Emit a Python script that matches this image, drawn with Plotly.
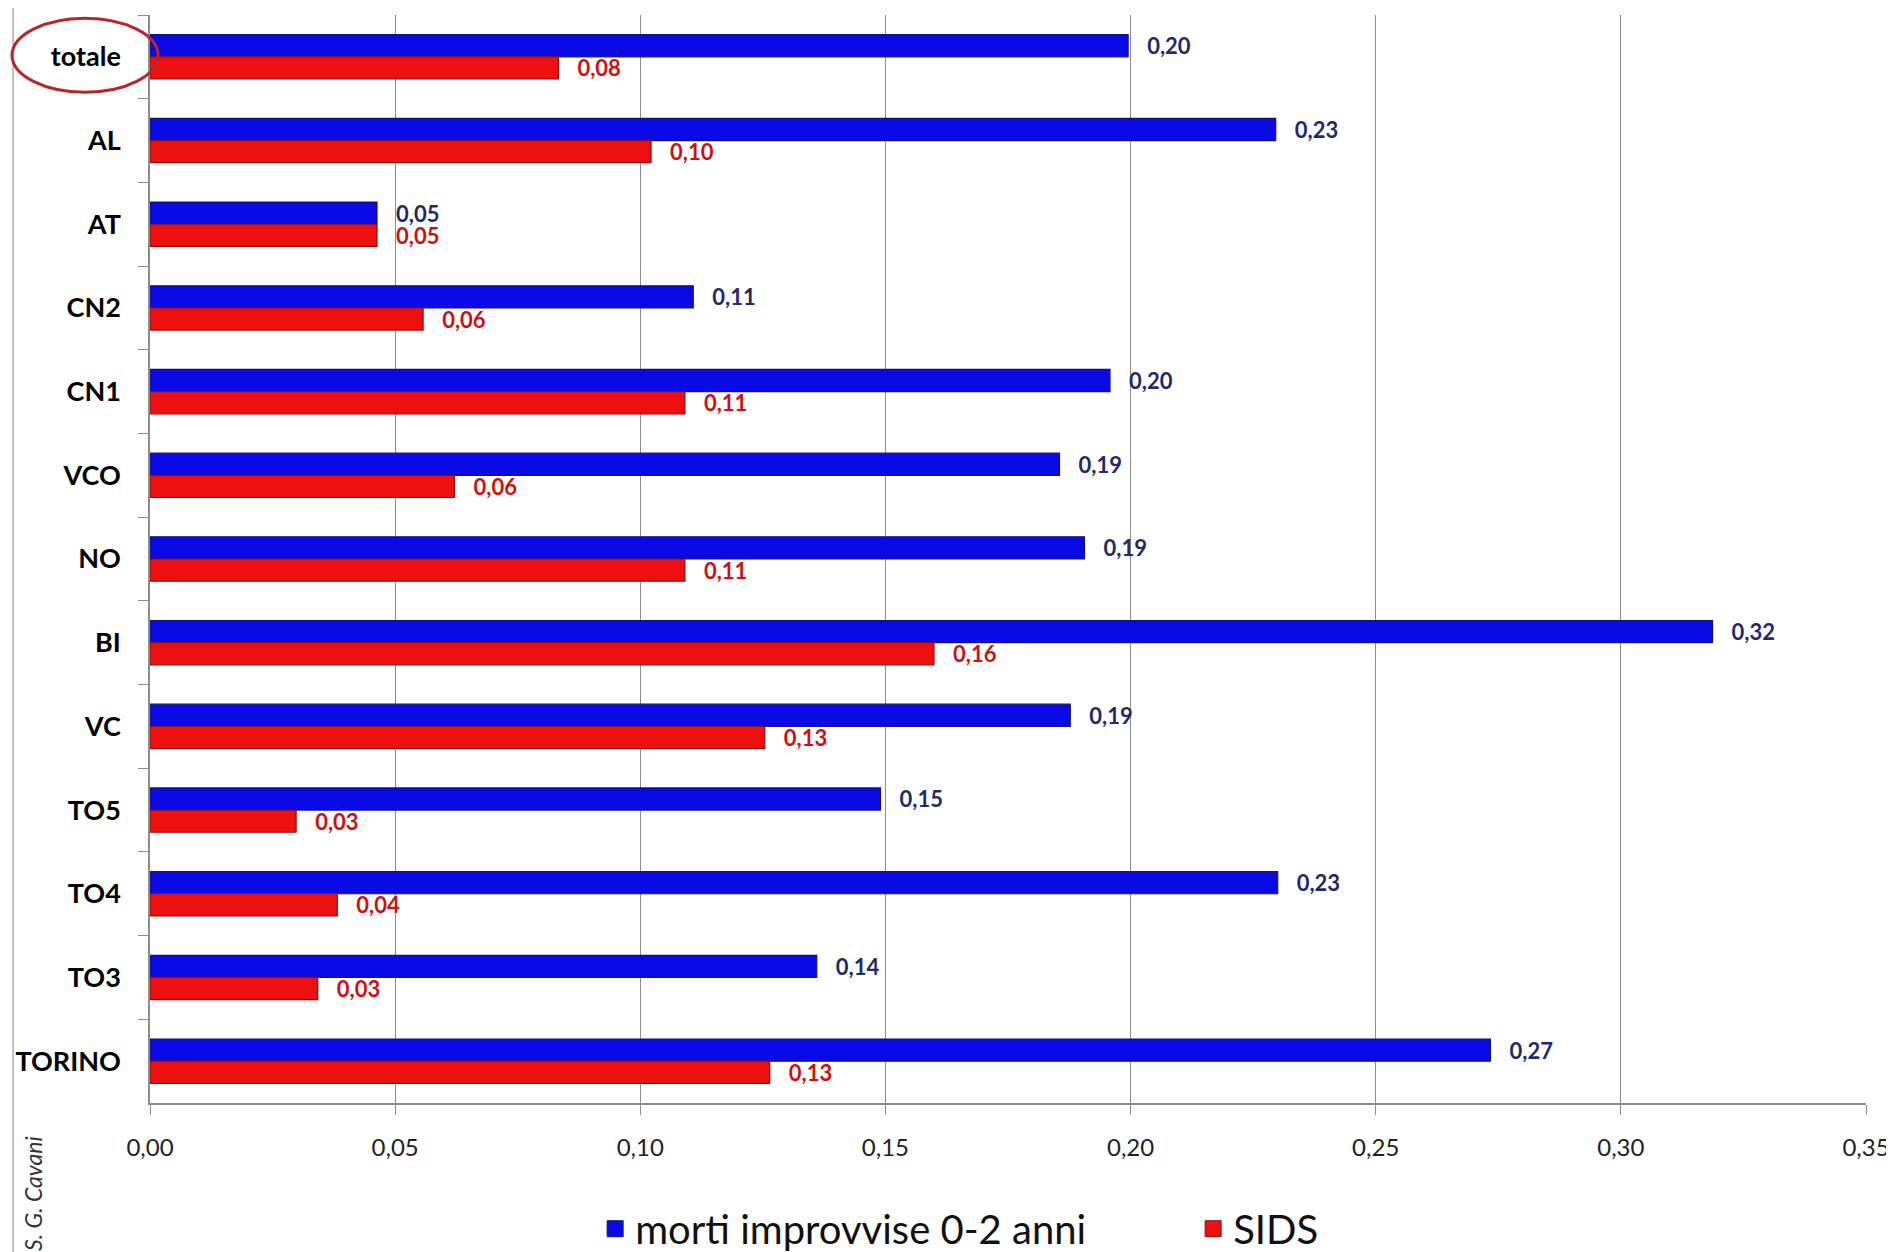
import plotly.graph_objects as go

categories = ["totale", "AL", "AT", "CN2", "CN1", "VCO", "NO", "BI", "VC", "TO5", "TO4", "TO3", "TORINO"]
morti_improvvise = [0.1995, 0.2296, 0.0463, 0.1108, 0.1958, 0.1855, 0.1906, 0.3187, 0.1877, 0.1490, 0.2300, 0.1360, 0.2734]
sids = [0.0833, 0.1022, 0.0463, 0.0557, 0.1091, 0.0621, 0.1091, 0.1599, 0.1254, 0.0298, 0.0382, 0.0342, 0.1264]
series_names = ["morti improvvise 0-2 anni", "SIDS"]
series_colors = ["#0a0ae6", "#ee1010"]
x_ticks = [0.00, 0.05, 0.10, 0.15, 0.20, 0.25, 0.30, 0.35]

FONT = "Lato, Open Sans, sans-serif"
LABEL_TMPL = "\u00a0\u00a0\u00a0%{x:.2f}"

fig = go.Figure()
fig.add_trace(go.Bar(
    y=categories, x=morti_improvvise, orientation="h", name=series_names[0],
    marker=dict(color=series_colors[0], line=dict(color="#12127a", width=1.2)),
    texttemplate=LABEL_TMPL, textposition="outside", constraintext="none",
    cliponaxis=False, showlegend=False,
    textfont=dict(family=FONT, size=22, color="#1f2a6b", weight="bold"),
))
fig.add_trace(go.Bar(
    y=categories, x=sids, orientation="h", name=series_names[1],
    marker=dict(color=series_colors[1], line=dict(color="#8a1010", width=1.2)),
    texttemplate=LABEL_TMPL, textposition="outside", constraintext="none",
    cliponaxis=False, showlegend=False,
    textfont=dict(family=FONT, size=22, color="#cc1111", weight="bold"),
))
# legend entries (larger square swatches)
for name, col, lc in zip(series_names, series_colors, ["#12127a", "#8a1010"]):
    fig.add_trace(go.Scatter(
        x=[None], y=[None], mode="markers", name=name,
        marker=dict(symbol="square", size=22, color=col, line=dict(color=lc, width=1)),
        showlegend=True,
    ))

fig.update_layout(
    width=1894, height=1252,
    paper_bgcolor="white", plot_bgcolor="white",
    margin=dict(l=142, r=36, t=7, b=157, autoexpand=False),
    barmode="group", bargap=0.47, bargroupgap=0,
    separators=",.",
    font=dict(family=FONT, color="#111"),
    showlegend=True,
    legend=dict(
        orientation="h", xref="container", yref="container",
        x=0.31, y=0.025, xanchor="left", yanchor="middle",
        font=dict(family=FONT, size=40, color="#111"),
        entrywidth=553, entrywidthmode="pixels", itemsizing="trace",
        bgcolor="rgba(0,0,0,0)",
    ),
    xaxis=dict(
        range=[0, 0.35], tickvals=x_ticks, tickformat=".2f", automargin=False,
        showgrid=True, gridcolor="#8c8c8c", gridwidth=1,
        showline=True, linecolor="#8c8c8c", linewidth=1.5,
        ticks="outside", ticklen=10, tickcolor="#8c8c8c",
        tickfont=dict(family=FONT, size=24, color="#222"),
        ticklabelstandoff=12, zeroline=False,
    ),
    yaxis=dict(
        autorange="reversed", type="category", automargin=False,
        showline=True, linecolor="#8c8c8c", linewidth=1.5,
        ticks="outside", ticklen=10, tickcolor="#8c8c8c", tickson="boundaries",
        tickfont=dict(family=FONT, size=27, color="#000", weight="bold"),
        ticklabelstandoff=22, showgrid=False,
    ),
)

# left border line of chart area
fig.add_shape(type="line", xref="paper", yref="paper",
              x0=-0.0798, x1=-0.0798, y0=-0.2, y1=1.02,
              line=dict(color="#999999", width=1.2))
# oval highlighting "totale"
fig.add_shape(type="circle", xref="paper", yref="paper",
              x0=-0.0804, x1=0.0047, y0=0.929, y1=0.997,
              line=dict(color="#b8262b", width=3))

fig.add_annotation(text="S. G. Cavani", xref="paper", yref="paper",
                   x=-0.0682, y=-0.0827, textangle=-90, showarrow=False,
                   xanchor="center", yanchor="middle",
                   font=dict(family=FONT, size=23, color="#333", style="italic"))

fig.write_html("out.html")
